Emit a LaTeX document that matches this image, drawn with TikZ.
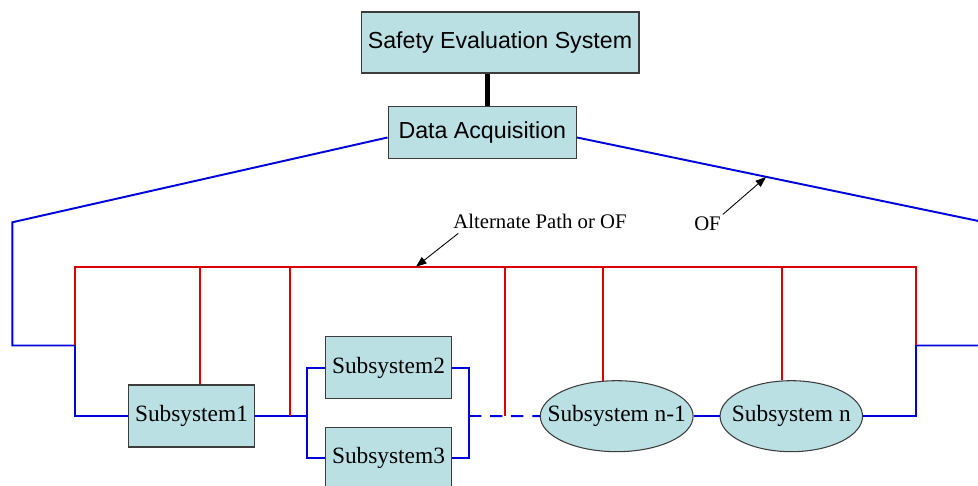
\documentclass[tikz,border=0pt]{standalone}
\usepackage{fontspec}
\setmainfont{Liberation Serif}
\newfontfamily\arialfont{Liberation Sans}
\usepackage{tikz}
\usetikzlibrary{arrows.meta,positioning,shapes.geometric,calc}
\definecolor{sysfill}{RGB}{187,224,227}
\definecolor{sysedge}{RGB}{60,60,60}
\definecolor{linkblue}{RGB}{0,0,220}
\definecolor{linkred}{RGB}{220,0,0}

\begin{document}
\begin{tikzpicture}[x=0.02cm, y=0.02cm,
  sysbox/.style={draw=sysedge, line width=0.6pt, fill=sysfill, inner sep=0pt,
    font=\arialfont\fontsize{13.2}{15}\selectfont},
  subbox/.style={draw=sysedge, line width=0.6pt, fill=sysfill, inner sep=0pt,
    minimum width=2.51cm, minimum height=1.24cm, font=\fontsize{13.3}{15}\selectfont},
  subell/.style={ellipse, draw=sysedge, line width=0.6pt, fill=sysfill,
    inner xsep=-8.6pt, inner ysep=0pt,
    minimum height=1.42cm, font=\fontsize{13.3}{15}\selectfont},
  mainline/.style={draw=linkblue, line width=1.1pt},
  altline/.style={draw=linkred, line width=1.1pt},
  pointer/.style={-{Triangle[length=6pt,width=4.5pt]}, black, line width=0.5pt},
  note/.style={font=\fontsize{11.8}{14}\selectfont, inner sep=1pt}]

\useasboundingbox (0,0) rectangle (978,486);
\clip (0,0) rectangle (978,486);

% Top of the tree
\node[sysbox, minimum width=5.56cm, minimum height=1.22cm] (sys) at (500,443.5) {Safety Evaluation System};
\node[sysbox, minimum width=3.77cm, minimum height=1.04cm] (da) at (482.3,353.5) {Data Acquisition};
\draw[black, line width=2.8pt] ([xshift=0.11cm]da.north) -- ([xshift=0.11cm]da.north |- sys.south);

% Subsystems
\node[subbox] (s1) at (191.5,70) {Subsystem1};
\node[subbox] (s2) at (388.5,118.3) {Subsystem2};
\node[subbox] (s3) at (388.5,27.7) {Subsystem3};
\node[subell, minimum width=3.04cm] (sn1) at (616.7,69.8) {Subsystem n-1};
\node[subell, minimum width=2.85cm] (sn) at (791.3,69.8) {Subsystem n};

% Junctions
\coordinate (jl) at (75,140.5);
\coordinate (jr) at (916,140.5);
\coordinate (busl) at (75,219.3);
\coordinate (busr) at (916,219.3);
\coordinate (b1) at (290,70);
\coordinate (split) at (307.3,70);
\coordinate (merge) at (469,70);
\coordinate (b2) at (505,70);

% Main (blue) path
\draw[mainline] ([yshift=-0.1cm]da.west) -- (12.3,263.7) |- (jl) |- (s1.west);
\draw[mainline] ([yshift=-0.1cm]da.east) -- (990,262.6) |- (jr);
\draw[mainline] (s1.east) -- (split);
\draw[mainline] (s2.west) -- ++(-0.37cm,0) |- (s3.west);
\draw[mainline] (s2.east) -- ++(0.354cm,0) |- (s3.east);
\draw[mainline, dashed, dash pattern=on 7pt off 5pt] (merge) -- (sn1.west);
\draw[mainline] (sn1.east) -- (sn.west);
\draw[mainline] (sn.east) -| (jr);

% Alternate (red) path
\draw[altline] (jl) -- (busl) -- (busr) -- (jr);
\draw[altline] ([xshift=0.17cm]s1.north) -- ([xshift=0.17cm]s1.north |- busl);
\draw[altline] (b1) -- (b1 |- busl);
\draw[altline] (b2) -- (b2 |- busl);
\draw[altline] (sn1.111) -- (sn1.111 |- busl);
\draw[altline] (sn.104) -- (sn.104 |- busl);

% Labels
\node[note] (alt) at (540,265) {Alternate Path or OF};
\coordinate (alttip) at (416,219.3);
\draw[pointer] ([xshift=0.14cm,yshift=-0.06cm]alt.south west) -- (alttip);
\node[note] (of) at (707.5,262.5) {OF};
\coordinate (oftip) at (766,309);
\draw[pointer] (of.north east) -- (oftip);

\end{tikzpicture}
\end{document}
